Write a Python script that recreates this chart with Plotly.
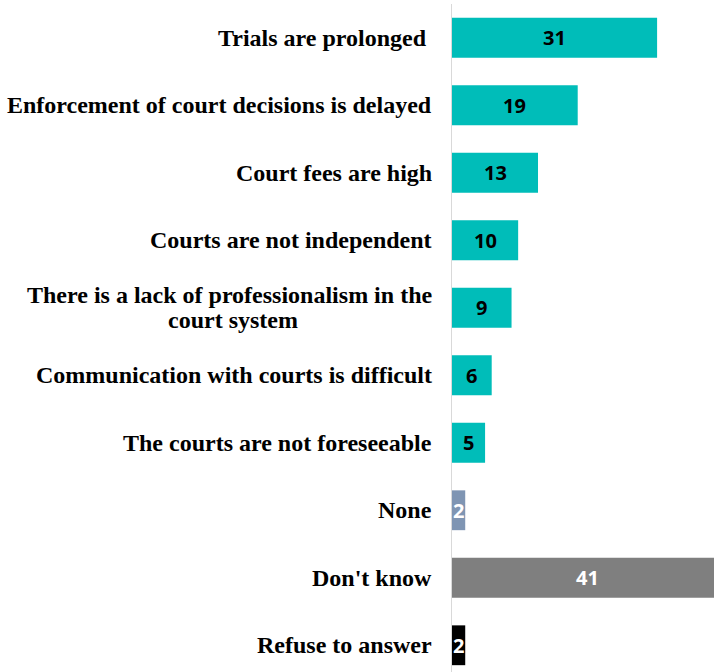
import plotly.graph_objects as go

# Survey responses (percent), listed top to bottom
categories = [
    "Trials are prolonged\u00a0",
    "Enforcement of court decisions is delayed",
    "Court fees are high",
    "Courts are not independent",
    "There is a lack of professionalism in the<br>court system",
    "Communication with courts is difficult",
    "The courts are not foreseeable",
    "None",
    "Don't know",
    "Refuse to answer",
]
values = [31, 19, 13, 10, 9, 6, 5, 2, 41, 2]
bar_colors = ["#00BDB9"] * 7 + ["#7F95B3", "#7F7F7F", "#000000"]
label_colors = ["#000000"] * 7 + ["#FFFFFF", "#FFFFFF", "#FFFFFF"]

idx = list(range(len(categories)))

fig = go.Figure(
    go.Bar(
        x=values,
        y=idx,
        orientation="h",
        marker=dict(color=bar_colors, line=dict(width=0)),
        width=0.59,
        hoverinfo="skip",
    )
)

# value labels centred on each bar
for i, v in enumerate(values):
    fig.add_annotation(
        x=v / 2, y=i, xref="x", yref="y", text="<b>%d</b>" % v, showarrow=False,
        font=dict(family="Open Sans", size=20, color=label_colors[i]),
    )

# category labels to the left of the axis; wrapped labels use tight line spacing,
# with the second line centred under the first
cat_font = dict(family="Liberation Serif", size=24, color="#000000")
line_gap = 25
first_line_width = 402
label_shift = -18
for i, c in enumerate(categories):
    lines = c.split("<br>")
    if len(lines) == 1:
        fig.add_annotation(
            x=0, y=i, xref="paper", yref="y", text="<b>%s</b>" % c, showarrow=False,
            xanchor="right", xshift=label_shift, font=cat_font,
        )
    else:
        fig.add_annotation(
            x=0, y=i, xref="paper", yref="y", text="<b>%s</b>" % lines[0],
            showarrow=False, xanchor="right", xshift=label_shift, yshift=line_gap / 2,
            font=cat_font,
        )
        fig.add_annotation(
            x=0, y=i, xref="paper", yref="y", text="<b>%s</b>" % lines[1],
            showarrow=False, xanchor="center",
            xshift=label_shift - first_line_width / 2,
            yshift=-line_gap / 2, font=cat_font,
        )

fig.update_traces(cliponaxis=True)
fig.update_layout(
    width=714, height=672,
    margin=dict(l=452, r=0, t=4, b=0),
    paper_bgcolor="#FFFFFF", plot_bgcolor="#FFFFFF",
    showlegend=False,
    font=dict(family="Open Sans"),
    xaxis=dict(range=[0, 39.6], visible=False, fixedrange=True),
    yaxis=dict(
        range=[9.396, -0.5], showticklabels=False, showgrid=False,
        zeroline=False, showline=True, linecolor="#D9D9D9", linewidth=1,
        ticks="", fixedrange=True,
    ),
)

fig.write_html("out.html")
